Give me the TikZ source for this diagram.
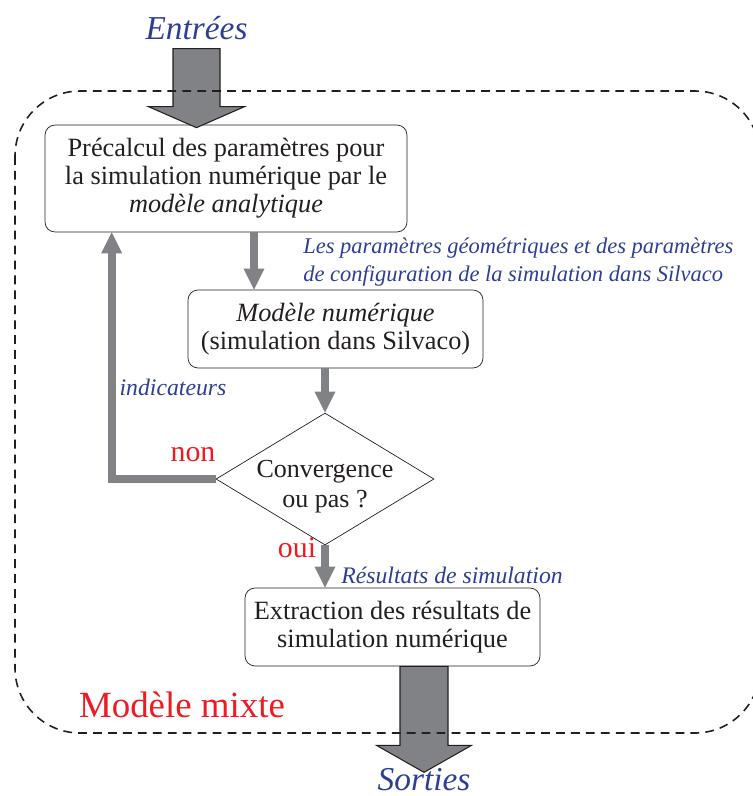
\documentclass[tikz,border=0pt]{standalone}
\usepackage{fontspec}
\setmainfont{Liberation Serif}
\usetikzlibrary{shapes.geometric,arrows.meta,calc}
\definecolor{bleu}{RGB}{46,62,150}
\definecolor{rouge}{RGB}{237,28,36}
\definecolor{gris}{RGB}{128,130,133}
\definecolor{encre}{RGB}{35,31,32}
\tikzset{
  boite/.style={draw=encre,text=encre,rounded corners=0.2cm,align=center,inner sep=0pt,
    font=\fontsize{15}{16}\selectfont},
  test/.style={draw=encre,diamond,inner sep=0pt,minimum width=4.36cm,minimum height=2.64cm},
  textetest/.style={text=encre,align=center,inner sep=0pt,yshift=-4.5pt,font=\fontsize{14.8}{17}\selectfont},
  fleche/.style={draw=gris,line width=4.5pt,-{Triangle[length=12pt,width=12pt,line width=0pt]}},
  grosse/.style={draw=encre,fill=gris,line width=0.6pt},
  note/.style={text=bleu,font=\fontsize{13.5}{16}\selectfont\itshape,align=left,inner sep=0pt},
  titre/.style={text=bleu,font=\fontsize{19}{20}\selectfont\itshape,inner sep=0pt},
  etiq/.style={text=rouge,font=\fontsize{17}{18}\selectfont,inner sep=0pt}
}
\begin{document}
\begin{tikzpicture}[x=0.02cm,y=-0.02cm]
\useasboundingbox (0,0) rectangle (752,796);
% entrees / sorties
\node[titre] (entrees) at (196.5,28) {Entrées};
\node[titre] (sorties) at (424,780) {Sorties};
% blocs
\node[boite,minimum width=7.24cm,minimum height=2.14cm] (b1) at (226,178.5)
  {Précalcul des paramètres pour\\la simulation numérique par le\\\textit{modèle analytique}};
\node[boite,minimum width=5.9cm,minimum height=1.56cm] (b2) at (335.5,329)
  {\textit{Modèle numérique}\\(simulation dans Silvaco)};
\node[test,label={[textetest]center:Convergence\\ou pas ?}] (dec) at (325,479) {};
\node[boite,minimum width=5.9cm,minimum height=1.56cm] (b3) at (392.5,627)
  {Extraction des résultats de\\simulation numérique};
% grosses fleches
\draw[grosse] (b1.north -| entrees.south) ++(0,3) -- ++(-48,-21) -- ++(24.5,0) -- ++(0,-58)
  -- ++(47,0) -- ++(0,58) -- ++(24.5,0) -- cycle;
\draw[grosse] (b3.south -| sorties.north) ++(-24,0) -- ++(0,79) -- ++(-23.5,0) -- ++(47.5,27)
  -- ++(47.5,-27) -- ++(-23.5,0) -- ++(0,-79) -- cycle;
% fleches
\coordinate (d1) at ($(b1.south)+(28,0)$);
\coordinate (d2) at ($(b1.south west)+(67,0)$);
\draw[fleche] (d1) -- (d1 |- b2.north);
\draw[fleche] (dec.north |- b2.south) -- (dec.north);
\draw[fleche] (dec.south) -- (dec.south |- b3.north);
\draw[fleche] (dec.west) -| (d2);
% textes
\node[note,font=\fontsize{12.8}{16}\selectfont\itshape,anchor=west] (param) at (303,262)
  {Les paramètres géométriques et des paramètres\\de configuration de la simulation dans Silvaco};
\node[note] (indic) at (173,387) {indicateurs};
\node[note,anchor=west] (result) at (341,575) {Résultats de simulation};
\node[etiq] (non) at (193,455) {non};
\node[etiq] (oui) at (297,548) {oui};
\node[text=rouge,font=\fontsize{21}{22}\selectfont,inner sep=0pt] (mixte) at (182,705) {Modèle mixte};
% cadre
\draw[encre,line width=0.9pt,dash pattern=on 5pt off 3.5pt,rounded corners=1.3cm] (15,91) rectangle (760,733);
\end{tikzpicture}
\end{document}
